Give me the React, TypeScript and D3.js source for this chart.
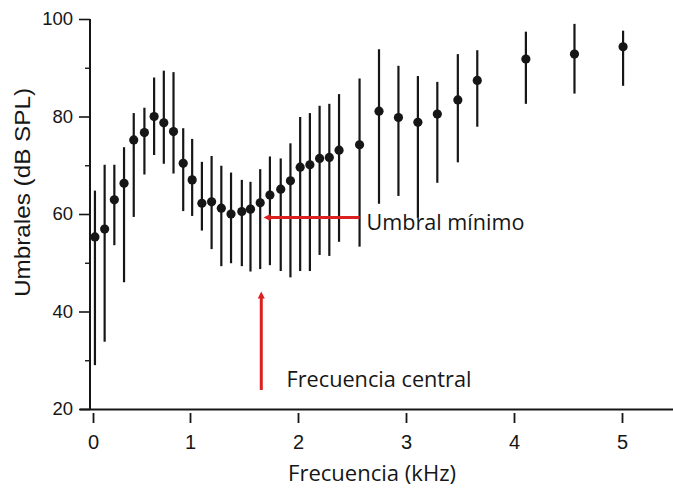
import React, { useEffect, useRef } from "react";
import * as d3 from "d3";

// ---- Data ----
const freqs = [0.02, 0.12, 0.22, 0.32, 0.42, 0.53, 0.63, 0.73, 0.83, 0.93, 1.02, 1.11, 1.2, 1.29, 1.38, 1.48, 1.56, 1.65, 1.74, 1.84, 1.93, 2.02, 2.11, 2.2, 2.29, 2.38, 2.57, 2.75, 2.93, 3.11, 3.29, 3.48, 3.66, 4.11, 4.56, 5.01];
const means = [55.3, 56.9, 62.9, 66.3, 75.2, 76.7, 80.0, 78.7, 76.9, 70.4, 67.0, 62.2, 62.5, 61.2, 60.0, 60.5, 61.0, 62.3, 63.9, 65.1, 66.8, 69.6, 70.1, 71.4, 71.6, 73.1, 74.2, 81.1, 79.8, 78.8, 80.5, 83.4, 87.4, 91.8, 92.8, 94.3];
const upper = [64.8, 70.1, 70.1, 73.7, 80.7, 81.8, 88.0, 89.4, 89.1, 77.6, 75.4, 70.7, 71.9, 69.9, 68.5, 67.0, 66.6, 69.2, 71.8, 71.4, 74.5, 79.9, 80.7, 82.2, 82.6, 84.6, 87.8, 93.8, 90.4, 88.3, 87.1, 92.8, 93.6, 97.4, 99.0, 97.6];
const lower = [29.0, 33.8, 53.6, 46.0, 59.4, 68.1, 72.1, 70.3, 68.3, 60.6, 59.6, 56.6, 52.8, 49.3, 49.9, 49.3, 48.2, 48.7, 49.5, 48.3, 47.0, 48.3, 48.3, 51.6, 51.4, 54.3, 53.3, 62.1, 63.7, 59.2, 66.4, 70.6, 77.9, 82.6, 84.7, 86.3];

const xTicks = [0, 1, 2, 3, 4, 5];
const yTicks = [20, 40, 60, 80, 100];
const yMinorTicks = [30, 50, 70, 90];

const xTitle = "Frecuencia (kHz)";
const yTitle = "Umbrales (dB SPL)";
const minLabel = "Umbral mínimo";
const cfLabel = "Frecuencia central";

// annotation anchors in data units
const minThreshold = 59.3;
const minArrowFrom = 2.57;
const minArrowTo = 1.68;
const cfFreq = 1.66;
const cfArrowFrom = 23.9;
const cfArrowTo = 44.1;

const W = 673;
const H = 490;
const RED = "#dc1f1f";
const INK = "#161616";

export default function App() {
  const xAxisRef = useRef<SVGGElement>(null);
  const yAxisRef = useRef<SVGGElement>(null);
  const yMinorRef = useRef<SVGGElement>(null);

  const x = d3.scaleLinear().domain([0, 1, 5]).range([93, 190, 622]);
  const y = d3.scaleLinear().domain([20, 100]).range([409, 19]);

  useEffect(() => {
    const gx = d3.select(xAxisRef.current!);
    gx.call(d3.axisBottom(x).tickValues(xTicks).tickFormat(d3.format("d")).tickSize(10).tickPadding(12) as any);
    gx.select(".domain").remove();
    gx.selectAll("line").attr("stroke", INK).attr("stroke-width", 1.8);
    gx.selectAll("text")
      .attr("fill", INK)
      .attr("font-family", "'Liberation Sans', Arial, sans-serif")
      .attr("font-size", 20);

    const gy = d3.select(yAxisRef.current!);
    gy.call(d3.axisLeft(y).tickValues(yTicks).tickFormat(d3.format("d")).tickSize(11).tickPadding(6) as any);
    gy.select(".domain").remove();
    gy.selectAll("line").attr("stroke", INK).attr("stroke-width", 1.6);
    gy.selectAll("text")
      .attr("fill", INK)
      .attr("font-family", "'Liberation Sans', Arial, sans-serif")
      .attr("font-size", 18.5);

    const gm = d3.select(yMinorRef.current!);
    gm.call(d3.axisLeft(y).tickValues(yMinorTicks).tickSize(5).tickFormat(() => "") as any);
    gm.select(".domain").remove();
    gm.selectAll("line").attr("stroke", INK).attr("stroke-width", 1.4);
  }, []);

  const yArrowY = y(minThreshold);
  const hx1 = x(minArrowFrom);
  const hx2 = x(minArrowTo);
  const vx = x(cfFreq);
  const vy1 = y(cfArrowFrom);
  const vy2 = y(cfArrowTo);

  return (
    <svg
      width={W}
      height={H}
      viewBox={`0 0 ${W} ${H}`}
      style={{ position: "absolute", left: 0, top: 0, background: "#fff", display: "block" }}
    >
      {/* axis lines */}
      <line x1={90} x2={90} y1={y(100)} y2={y(20) + 1} stroke={INK} strokeWidth={2} />
      <line x1={80} x2={W} y1={y(20) + 0.5} y2={y(20) + 0.5} stroke={INK} strokeWidth={2} />
      <g ref={xAxisRef} transform={`translate(0,${y(20) + 4})`} />
      <g ref={yAxisRef} transform={`translate(90,0)`} />
      <g ref={yMinorRef} transform={`translate(90,0)`} />

      {/* error bars */}
      {freqs.map((f, i) => (
        <line
          key={"e" + i}
          x1={x(f)}
          x2={x(f)}
          y1={y(upper[i])}
          y2={y(lower[i])}
          stroke={INK}
          strokeWidth={2.2}
        />
      ))}
      {/* points */}
      {freqs.map((f, i) => (
        <circle key={"p" + i} cx={x(f)} cy={y(means[i])} r={4.6} fill={INK} />
      ))}

      {/* annotation: minimum threshold */}
      <line x1={hx1} x2={hx2 + 5} y1={yArrowY} y2={yArrowY} stroke={RED} strokeWidth={3} />
      <polygon
        points={`${hx2},${yArrowY} ${hx2 + 7},${yArrowY - 3.5} ${hx2 + 7},${yArrowY + 3.5}`}
        fill={RED}
      />
      <text
        x={366.5}
        y={229.5}
        fontFamily="'Open Sans', 'Noto Sans', sans-serif"
        fontSize={21}
        fill={INK}
        textLength={158}
        lengthAdjust="spacingAndGlyphs"
      >
        {minLabel}
      </text>

      {/* annotation: center frequency */}
      <line x1={vx} x2={vx} y1={vy1} y2={vy2 + 5} stroke={RED} strokeWidth={3} />
      <polygon
        points={`${vx},${vy2} ${vx - 3.5},${vy2 + 7} ${vx + 3.5},${vy2 + 7}`}
        fill={RED}
      />
      <text
        x={286.5}
        y={387}
        fontFamily="'Open Sans', 'Noto Sans', sans-serif"
        fontSize={21}
        fill={INK}
        textLength={185}
        lengthAdjust="spacingAndGlyphs"
      >
        {cfLabel}
      </text>

      {/* axis titles */}
      <text
        x={288}
        y={480.5}
        fontFamily="'Open Sans', 'Noto Sans', sans-serif"
        fontSize={21.5}
        fill={INK}
        textLength={168}
        lengthAdjust="spacingAndGlyphs"
      >
        {xTitle}
      </text>
      <text
        transform={`translate(30,297) rotate(-90)`}
        x={0}
        y={0}
        fontFamily="'Liberation Sans', Arial, sans-serif"
        fontSize={22}
        fill={INK}
        textLength={209}
        lengthAdjust="spacingAndGlyphs"
      >
        {yTitle}
      </text>
    </svg>
  );
}
